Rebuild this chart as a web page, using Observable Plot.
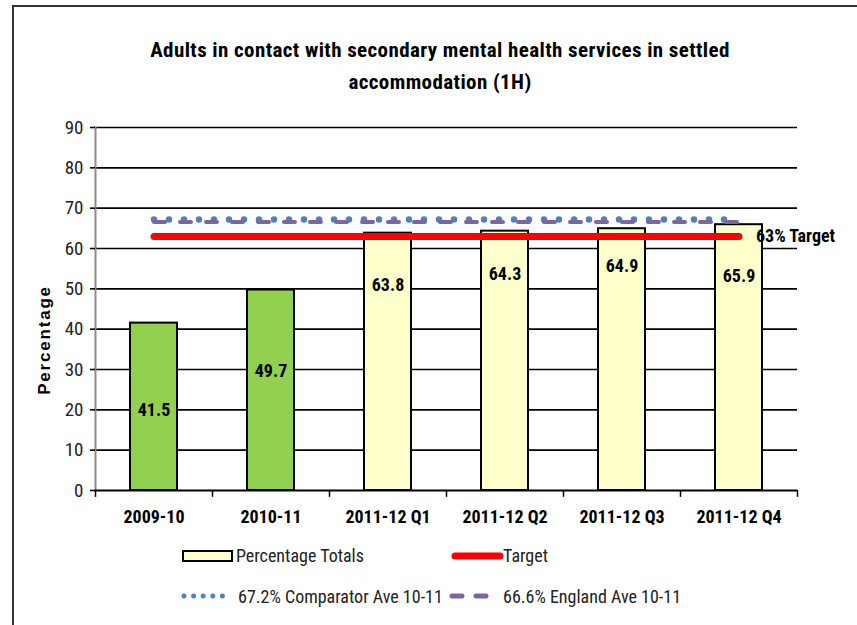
<!DOCTYPE html>
<html>
<head>
<meta charset="utf-8">
<script src="https://cdn.jsdelivr.net/npm/d3@7"></script>
<script src="https://cdn.jsdelivr.net/npm/@observablehq/plot@0.6"></script>
<style>
  html, body { margin: 0; padding: 0; background: #fff; }
  #page { position: relative; width: 857px; height: 625px; overflow: hidden; font-family: "Liberation Sans Narrow", "Arial Narrow", "Roboto Condensed", Roboto, sans-serif; color: #111; }
  #border { position: absolute; left: 12px; top: 5px; right: -10px; bottom: -10px; border-left: 2px solid #333; border-top: 2px solid #333; }
  #title { position: absolute; left: 0; width: 880px; top: 34px; text-align: center; font-weight: bold; font-size: 21px; letter-spacing: 0.4px; line-height: 32px; color: #000; }
  #ylabel { position: absolute; left: 45px; top: 340px; transform: translate(-50%, -50%) rotate(-90deg); font-family: "Liberation Sans", Arial, sans-serif; font-weight: bold; font-size: 17px; letter-spacing: 1.8px; white-space: nowrap; color: #000; }
  #chart { position: absolute; left: 0; top: 110px; }
  .leg { position: absolute; font-size: 18px; white-space: nowrap; line-height: 20px; color: #222; }
  .sw { position: absolute; }
</style>
</head>
<body>
<div id="page">
  <div id="border"></div>
  <div id="title"></div>
  <div id="ylabel"></div>
  <div id="chart"></div>
  <div id="legend"></div>
</div>
<script>
// ---- data ----
const titleLines = ["Adults in contact with secondary mental health services in settled", "accommodation (1H)"];
const yAxisTitle = "Percentage";
const categories = ["2009-10", "2010-11", "2011-12 Q1", "2011-12 Q2", "2011-12 Q3", "2011-12 Q4"];
const values = [41.5, 49.7, 63.8, 64.3, 64.9, 65.9];
const kinds = ["annual", "annual", "quarter", "quarter", "quarter", "quarter"];
const labelAt = [20, 29.5, 51, 53.7, 55.5, 53.1];
const yTicks = [0, 10, 20, 30, 40, 50, 60, 70, 80, 90];
const target = 63;
const comparator = 67.2;
const england = 66.6;
const targetLabel = "63% Target";
const legendNames = ["Percentage Totals", "Target", "67.2% Comparator Ave 10-11", "66.6% England Ave 10-11"];

// ---- build ----
const NARROW = '"Liberation Sans Narrow", "Arial Narrow", "Roboto Condensed", Roboto, sans-serif';
document.getElementById("title").innerHTML = titleLines.map(t => `<div>${t}</div>`).join("");
document.getElementById("ylabel").textContent = yAxisTitle;

const rows = categories.map((c, i) => ({category: c, value: values[i], kind: kinds[i], labelY: labelAt[i]}));
const flat = v => categories.map(c => ({category: c, value: v}));
const half = 58.5;

const chart = Plot.plot({
  width: 857,
  height: 420,
  marginTop: 17,
  marginBottom: 40,
  marginLeft: 95,
  marginRight: 60,
  style: {fontFamily: NARROW, background: "transparent", overflow: "visible", color: "#111"},
  x: {domain: categories, paddingInner: 0.6, paddingOuter: 0.3, label: null},
  y: {domain: [0, 90], label: null},
  color: {domain: ["annual", "quarter"], range: ["#92D050", "#FFFFCC"]},
  marks: [
    Plot.gridY(yTicks.filter(t => t > 0), {stroke: "#000", strokeOpacity: 1, strokeWidth: 1.6}),
    Plot.frame({anchor: "left", stroke: "#8c8c8c", strokeWidth: 2}),
    Plot.axisY(yTicks, {tickSize: 5, tickPadding: 7, fontSize: 19, fill: "#222", stroke: "#000", strokeWidth: 1.6, label: null}),
    Plot.barY(rows, {x: "category", y: "value", fill: "kind", stroke: "#000", strokeWidth: 2}),
    Plot.ruleY([0], {stroke: "#000", strokeWidth: 2}),
    Plot.ruleX(categories, {x: d => d, y1: 0, y2: -1.7, dx: -half, stroke: "#000", strokeWidth: 1.5}),
    Plot.ruleX(categories.slice(-1), {x: d => d, y1: 0, y2: -1.7, dx: half, stroke: "#000", strokeWidth: 1.5}),
    Plot.axisX({tickSize: 0, tickPadding: 20, fontSize: 18, fontWeight: "bold", fill: "#000", label: null}),
    Plot.text(rows, {x: "category", y: "labelY", text: d => d.value.toFixed(1), fontSize: 18, fontWeight: "bold", fill: "#000"}),
    Plot.lineY(flat(comparator), {x: "category", y: "value", stroke: "#4F81BD", strokeWidth: 6.5, strokeDasharray: "0,15", strokeLinecap: "round"}),
    Plot.lineY(flat(england), {x: "category", y: "value", stroke: "#8064A2", strokeWidth: 4, strokeDasharray: "11,15", strokeLinecap: "round"}),
    Plot.lineY(flat(target), {x: "category", y: "value", stroke: "#FF0000", strokeWidth: 7, strokeLinecap: "round"}),
    Plot.text([targetLabel], {x: () => categories[categories.length - 1], y: () => target, text: d => d, dx: 17, textAnchor: "start", fontSize: 18, fontWeight: "bold", fill: "#000"})
  ]
});
document.getElementById("chart").appendChild(chart);

// ---- legend (HTML) ----
const legend = document.getElementById("legend");
legend.innerHTML = `
  <svg class="sw" style="left:181px;top:549px" width="54" height="15"><rect x="2" y="2" width="49" height="10" fill="#FFFFCC" stroke="#000" stroke-width="2"/></svg>
  <div class="leg" style="left:236px;top:546px">${legendNames[0]}</div>
  <svg class="sw" style="left:450px;top:548px" width="56" height="16"><line x1="5" y1="8" x2="50" y2="8" stroke="#FF0000" stroke-width="7" stroke-linecap="round"/></svg>
  <div class="leg" style="left:503px;top:546px">${legendNames[1]}</div>
  <svg class="sw" style="left:180px;top:589px" width="56" height="14"><line x1="4" y1="7" x2="52" y2="7" stroke="#4F81BD" stroke-width="5" stroke-dasharray="0,9.6" stroke-linecap="round"/></svg>
  <div class="leg" style="left:238px;top:587px">${legendNames[2]}</div>
  <svg class="sw" style="left:446px;top:589px" width="46" height="14"><line x1="6" y1="7" x2="42" y2="7" stroke="#8064A2" stroke-width="5" stroke-dasharray="10,14" stroke-linecap="round"/></svg>
  <div class="leg" style="left:503px;top:587px">${legendNames[3]}</div>
`;
</script>
</body>
</html>
